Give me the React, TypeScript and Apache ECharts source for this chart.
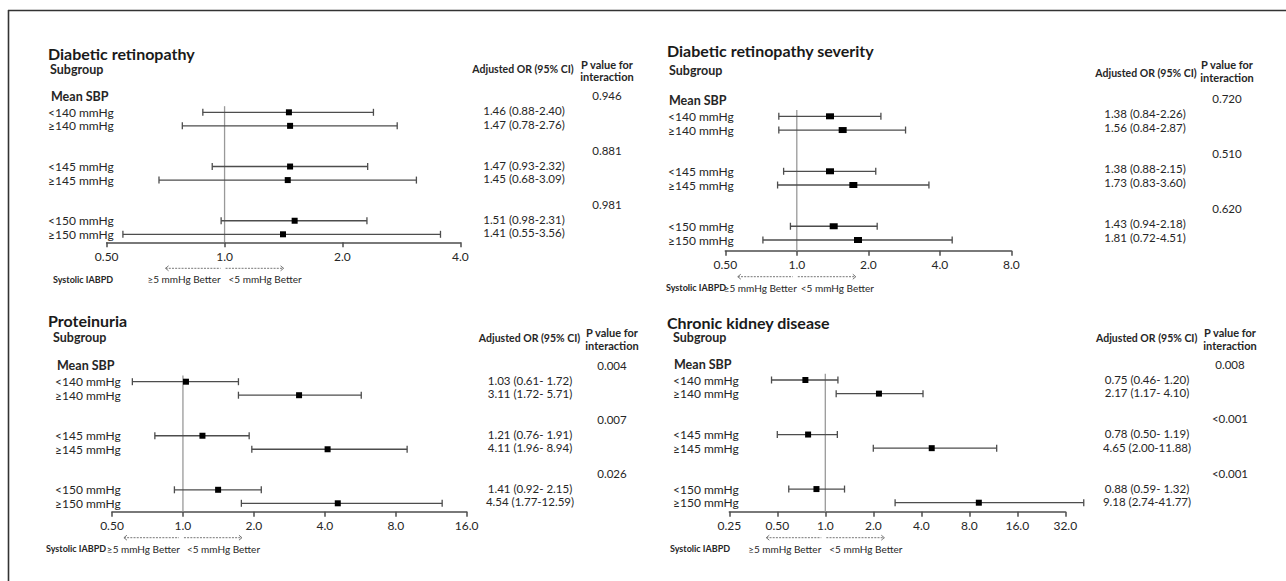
import React, { useEffect, useRef } from "react";
import * as echarts from "echarts";

const FONT = 'Lato, "Open Sans", "DejaVu Sans", sans-serif';
const INK = "#262626";
const BAR = "#4d4d4d";

// ---------- data ----------
const rowLabels = ["<140 mmHg", "≥140 mmHg", "<145 mmHg", "≥145 mmHg", "<150 mmHg", "≥150 mmHg"];
const rowPos = [0, 1, 4, 5, 8, 9];
const groupPos = [0, 4, 8];

const titles = ["Diabetic retinopathy", "Diabetic retinopathy severity", "Proteinuria", "Chronic kidney disease"];

// Diabetic retinopathy
const drOR = [1.46, 1.47, 1.47, 1.45, 1.51, 1.41];
const drLow = [0.88, 0.78, 0.93, 0.68, 0.98, 0.55];
const drHigh = [2.4, 2.76, 2.32, 3.09, 2.31, 3.56];
const drText = ["1.46 (0.88-2.40)", "1.47 (0.78-2.76)", "1.47 (0.93-2.32)", "1.45 (0.68-3.09)", "1.51 (0.98-2.31)", "1.41 (0.55-3.56)"];
const drP = ["0.946", "0.881", "0.981"];
const drRange = [0.5, 4];

// Diabetic retinopathy severity
const drsOR = [1.38, 1.56, 1.38, 1.73, 1.43, 1.81];
const drsLow = [0.84, 0.84, 0.88, 0.83, 0.94, 0.72];
const drsHigh = [2.26, 2.87, 2.15, 3.6, 2.18, 4.51];
const drsText = ["1.38 (0.84-2.26)", "1.56 (0.84-2.87)", "1.38 (0.88-2.15)", "1.73 (0.83-3.60)", "1.43 (0.94-2.18)", "1.81 (0.72-4.51)"];
const drsP = ["0.720", "0.510", "0.620"];
const drsRange = [0.5, 8];

// Proteinuria
const prOR = [1.03, 3.11, 1.21, 4.11, 1.41, 4.54];
const prLow = [0.61, 1.72, 0.76, 1.96, 0.92, 1.77];
const prHigh = [1.72, 5.71, 1.91, 8.94, 2.15, 12.59];
const prText = ["1.03 (0.61- 1.72)", "3.11 (1.72- 5.71)", "1.21 (0.76- 1.91)", "4.11 (1.96- 8.94)", "1.41 (0.92- 2.15)", "4.54 (1.77-12.59)"];
const prP = ["0.004", "0.007", "0.026"];
const prRange = [0.5, 16];

// Chronic kidney disease
const ckdOR = [0.75, 2.17, 0.78, 4.65, 0.88, 9.18];
const ckdLow = [0.46, 1.17, 0.5, 2.0, 0.59, 2.74];
const ckdHigh = [1.2, 4.1, 1.19, 11.88, 1.32, 41.77];
const ckdText = ["0.75 (0.46- 1.20)", "2.17 (1.17- 4.10)", "0.78 (0.50- 1.19)", "4.65 (2.00-11.88)", "0.88 (0.59- 1.32)", "9.18 (2.74-41.77)"];
const ckdP = ["0.008", "<0.001", "<0.001"];
const ckdRange = [0.25, 32];

const panels = [
  { or: drOR, low: drLow, high: drHigh, text: drText, p: drP, range: drRange },
  { or: drsOR, low: drsLow, high: drsHigh, text: drsText, p: drsP, range: drsRange },
  { or: prOR, low: prLow, high: prHigh, text: prText, p: prP, range: prRange },
  { or: ckdOR, low: ckdLow, high: ckdHigh, text: ckdText, p: ckdP, range: ckdRange },
];

// ---------- layout (pixels) ----------
const layouts = [
  { left: 106.7, right: 460.3, firstRow: 112.3, lastRow: 234.3, axisY: 242.3, title: [48, 53], sub: [50, 69], mean: [51, 96], labelX: 48, orX: 524, pX: 607, orHead: [523, 69], pHead: [607, 64, 76], sysX: 53, mark: [6, 6], dy: -1.5, betterGap: 4 },
  { left: 725.3, right: 1011.3, firstRow: 116.3, lastRow: 240, axisY: 250.7, title: [667, 50], sub: [669, 70], mean: [669, 100.7], labelX: 668, orX: 1145, pX: 1227, orHead: [1146, 73.3], pHead: [1227, 64, 77], sysX: 666, mark: [8, 6], dy: -3, betterGap: 0 },
  { left: 112, right: 466.7, firstRow: 381.7, lastRow: 503.3, axisY: 511.7, title: [48, 320], sub: [53, 337.3], mean: [57, 365], labelX: 55, orX: 530, pX: 612, orHead: [529.5, 338.3], pHead: [612, 332.7, 345], sysX: 46, mark: [6, 6], dy: -1.5, betterGap: 3 },
  { left: 729.3, right: 1065.3, firstRow: 380, lastRow: 502.7, axisY: 511.7, title: [667, 322], sub: [673, 337.3], mean: [674, 364.3], labelX: 673, orX: 1147, pX: 1230, orHead: [1146.7, 338.3], pHead: [1230, 332.7, 345], sysX: 670, mark: [6, 6], dy: -1, betterGap: 4 },
];

const fmtTick = (v: number) => (v < 1 ? v.toFixed(2) : v.toFixed(1));

function buildOption() {
  const grids: any[] = [];
  const xAxes: any[] = [];
  const yAxes: any[] = [];
  const series: any[] = [];
  const graphics: any[] = [];

  graphics.push({ type: "line", shape: { x1: 8, y1: 10.5, x2: 1286, y2: 10.5 }, style: { stroke: "#333", lineWidth: 1.6 } });
  graphics.push({ type: "line", shape: { x1: 8.5, y1: 10, x2: 8.5, y2: 581 }, style: { stroke: "#333", lineWidth: 1.6 } });

  panels.forEach((pd, i) => {
    const L = layouts[i];
    const unit = (L.lastRow - L.firstRow) / 9;
    const yMin = -2;
    const yMax = (L.axisY - L.firstRow) / unit;
    const top = L.firstRow + yMin * unit;
    grids.push({ left: L.left, top, width: L.right - L.left, height: L.axisY - top, containLabel: false, outerBoundsMode: "none" });
    xAxes.push({
      type: "log",
      logBase: 2,
      gridIndex: i,
      position: "bottom",
      min: pd.range[0],
      max: pd.range[1],
      splitNumber: 10,
      axisLine: { show: true, onZero: false, lineStyle: { color: BAR, width: 1.5 } },
      axisTick: { show: true, inside: false, length: 5, lineStyle: { color: BAR, width: 1.5 } },
      axisLabel: { formatter: fmtTick, fontSize: 12, color: INK, fontFamily: FONT, margin: 8 },
      splitLine: { show: false },
      minorTick: { show: false },
    });
    yAxes.push({ type: "value", gridIndex: i, inverse: true, min: yMin, max: yMax, show: false });

    const data = pd.or.map((v, k) => [pd.low[k], pd.high[k], v, rowPos[k]]);
    const [mw, mh] = L.mark;
    series.push({
      type: "custom",
      xAxisIndex: i,
      yAxisIndex: i,
      clip: false,
      data,
      encode: { x: [0, 1, 2], y: 3 },
      renderItem: (params: any, api: any) => {
        const y = api.value(3);
        const pL = api.coord([api.value(0), y]);
        const pH = api.coord([api.value(1), y]);
        const pO = api.coord([api.value(2), y]);
        const cap = 3.5;
        const k = params.dataIndex;
        const ls = { stroke: BAR, lineWidth: 1.3 };
        return {
          type: "group",
          children: [
            { type: "line", shape: { x1: pL[0], y1: pL[1], x2: pH[0], y2: pH[1] }, style: ls },
            { type: "line", shape: { x1: pL[0], y1: pL[1] - cap, x2: pL[0], y2: pL[1] + cap }, style: ls },
            { type: "line", shape: { x1: pH[0], y1: pH[1] - cap, x2: pH[0], y2: pH[1] + cap }, style: ls },
            { type: "rect", shape: { x: pO[0] - mw / 2, y: pO[1] - mh / 2, width: mw, height: mh }, style: { fill: "#000" } },
            { type: "text", style: { text: rowLabels[k], x: L.labelX, y: pO[1], align: "left", verticalAlign: "middle", fill: INK, font: `12px ${FONT}` } },
            { type: "text", style: { text: pd.text[k], x: L.orX, y: pO[1] + L.dy, align: "center", verticalAlign: "middle", fill: INK, font: `11.5px ${FONT}` } },
          ],
        };
      },
      z: 3,
    });

    // p values for interaction, one per group
    series.push({
      type: "custom",
      xAxisIndex: i,
      yAxisIndex: i,
      clip: false,
      data: groupPos.map((g) => [1, g - 1.1]),
      encode: { x: 0, y: 1 },
      renderItem: (params: any, api: any) => {
        const p = api.coord([api.value(0), api.value(1)]);
        return { type: "text", style: { text: pd.p[params.dataIndex], x: L.pX, y: p[1] + L.dy, align: "center", verticalAlign: "middle", fill: INK, font: `11.5px ${FONT}` } };
      },
    });

    // reference line at OR = 1 with direction annotations
    series.push({
      type: "custom",
      xAxisIndex: i,
      yAxisIndex: i,
      clip: false,
      data: [[1, yMax]],
      encode: { x: 0, y: 1 },
      renderItem: (params: any, api: any) => {
        const t = api.coord([api.value(0), -0.45]);
        const b = api.coord([api.value(0), api.value(1)]);
        const x1 = t[0];
        const ay = b[1] + 26;
        const ty = b[1] + 37;
        const dash = { stroke: "#777", lineWidth: 1, lineDash: [2, 1.2] };
        const head = { stroke: "#777", lineWidth: 1, fill: "none" };
        return {
          type: "group",
          children: [
            { type: "line", shape: { x1, y1: t[1], x2: x1, y2: b[1] }, style: { stroke: "#999", lineWidth: 1.3 } },
            { type: "line", shape: { x1: x1 - 59, y1: ay, x2: x1 - 4, y2: ay }, style: dash },
            { type: "polyline", shape: { points: [[x1 - 56, ay - 2.5], [x1 - 59, ay], [x1 - 56, ay + 2.5]] }, style: head },
            { type: "line", shape: { x1: x1 + 1, y1: ay, x2: x1 + 59, y2: ay }, style: dash },
            { type: "polyline", shape: { points: [[x1 + 56, ay - 2.5], [x1 + 59, ay], [x1 + 56, ay + 2.5]] }, style: head },
            { type: "text", style: { text: "≥5 mmHg Better", x: x1 - L.betterGap, y: ty, align: "right", verticalAlign: "middle", fill: INK, font: `10px ${FONT}` } },
            { type: "text", style: { text: "<5 mmHg Better", x: x1 + 4, y: ty, align: "left", verticalAlign: "middle", fill: INK, font: `10px ${FONT}` } },
            { type: "text", style: { text: "Systolic IABPD", x: L.sysX, y: ty, align: "left", verticalAlign: "middle", fill: INK, font: `bold 9px ${FONT}` } },
          ],
        };
      },
    });

    // headers
    graphics.push({ type: "text", style: { text: titles[i], x: L.title[0], y: L.title[1], align: "left", verticalAlign: "middle", fill: "#1a1a1a", font: `bold 16px ${FONT}` } });
    graphics.push({ type: "text", style: { text: "Subgroup", x: L.sub[0], y: L.sub[1], align: "left", verticalAlign: "middle", fill: INK, font: `bold 12.5px ${FONT}` } });
    graphics.push({ type: "text", style: { text: "Mean SBP", x: L.mean[0], y: L.mean[1], align: "left", verticalAlign: "middle", fill: INK, font: `bold 12.5px ${FONT}` } });
    graphics.push({ type: "text", style: { text: "Adjusted OR (95% CI)", x: L.orHead[0], y: L.orHead[1], align: "center", verticalAlign: "middle", fill: INK, font: `bold 10.5px ${FONT}` } });
    graphics.push({ type: "text", style: { text: "P value for", x: L.pHead[0], y: L.pHead[1], align: "center", verticalAlign: "middle", fill: INK, font: `bold 11px ${FONT}` } });
    graphics.push({ type: "text", style: { text: "interaction", x: L.pHead[0], y: L.pHead[2], align: "center", verticalAlign: "middle", fill: INK, font: `bold 11px ${FONT}` } });
  });

  return {
    animation: false,
    backgroundColor: "#ffffff",
    grid: grids,
    xAxis: xAxes,
    yAxis: yAxes,
    series,
    graphic: { elements: graphics },
  };
}

export default function App() {
  const ref = useRef<HTMLDivElement>(null);
  useEffect(() => {
    document.body.style.margin = "0";
    const chart = echarts.init(ref.current!, null, { renderer: "svg" });
    chart.setOption(buildOption() as any);
    return () => chart.dispose();
  }, []);
  return <div ref={ref} style={{ width: 1286, height: 581, overflow: "hidden" }} />;
}
